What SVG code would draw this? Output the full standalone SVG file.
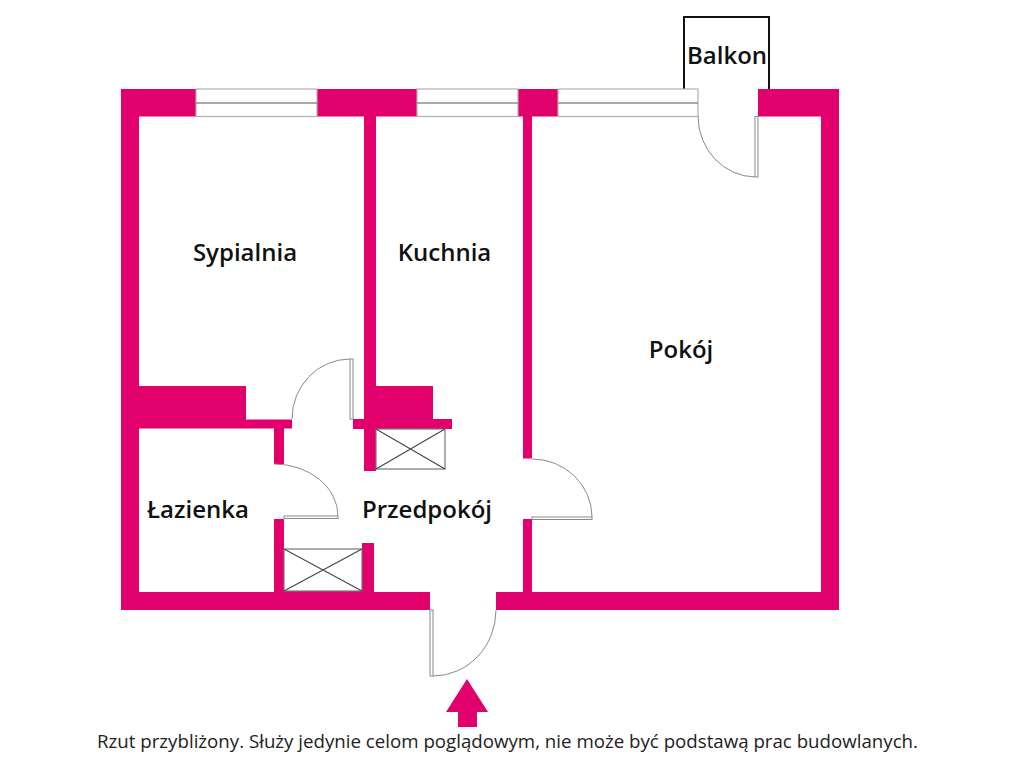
<svg xmlns="http://www.w3.org/2000/svg" width="1024" height="768" viewBox="0 0 1024 768">
<style>
.w{fill:#e2006c}
.win{fill:#fff;stroke:#b0b0b0;stroke-width:1.2}
.mid{stroke:#8c8c8c;stroke-width:1.6;fill:none}
.d{fill:#fff;stroke:#8a8a8a;stroke-width:1}
.a{fill:none;stroke:#8a8a8a;stroke-width:1}
.x{fill:#fff;stroke:#777;stroke-width:1.2}
.xl{stroke:#444;stroke-width:1.1;fill:none}
.l{font-family:"Open Sans","Noto Sans",sans-serif;font-weight:600;font-size:24px;fill:#111}
.f{font-family:"Open Sans","Noto Sans",sans-serif;font-size:18.700px;fill:#222}
</style>
<rect width="1024" height="768" fill="#fff"/>
<g id="balkon">
<path d="M684 89V17H769V89" fill="none" stroke="#111" stroke-width="2"/>
<text class="l" x="727" y="64" text-anchor="middle">Balkon</text>
</g>
<g id="walls">
<path class="w" d="M121 89H196V116.500H139V592H274V519H284V549H362V543H374V592H430V610H121Z"/>
<rect class="w" x="317" y="89" width="100" height="27.500"/>
<rect class="w" x="518" y="89" width="40" height="27.500"/>
<path class="w" d="M758 89H839V610H496V592H523V519H532V592H821V116.500H758Z"/>
<rect class="w" x="364" y="116" width="12" height="355"/>
<rect class="w" x="523" y="116" width="9" height="342.500"/>
<rect class="w" x="376" y="386" width="57" height="34"/>
<rect class="w" x="353" y="419" width="99" height="10"/>
<rect class="w" x="139" y="386" width="107" height="34"/>
<rect class="w" x="139" y="419.500" width="153" height="9"/>
<rect class="w" x="274" y="428" width="10" height="36"/>
</g>
<g id="windows">
<rect class="win" x="196" y="89" width="121" height="27.500"/><path class="mid" d="M196 103H317"/>
<rect class="win" x="417" y="89" width="101" height="27.500"/><path class="mid" d="M417 103H518"/>
<rect class="win" x="558" y="89" width="140" height="27.500"/><path class="mid" d="M558 103H698"/>
</g>
<g id="shafts">
<rect class="x" x="376" y="429" width="69" height="40"/><path class="xl" d="M376 429L445 469M445 429L376 469"/>
<rect class="x" x="284" y="549" width="78" height="42"/><path class="xl" d="M284 549L362 591M362 549L284 591"/>
</g>
<g id="doors">
<rect class="d" x="755" y="116.500" width="3" height="60.500"/><path class="a" d="M755 177A58 61 0 0 1 698 116.500"/>
<rect class="d" x="350" y="359" width="3" height="60"/><path class="a" d="M350 359A58 60 0 0 0 292 419"/>
<rect class="d" x="284" y="516" width="54" height="2.500"/><path class="a" d="M338 516A64 52 0 0 0 274 464"/>
<rect class="d" x="532" y="517" width="60" height="2.500"/><path class="a" d="M592 517A60 58 0 0 0 532 459"/>
<rect class="d" x="430" y="610" width="3" height="66"/><path class="a" d="M433 676A63 66 0 0 0 496 610"/>
</g>
<g id="arrow"><path class="w" d="M467 679L488 712H477V727H458V712H446Z"/></g>
<g id="labels">
<text class="l" x="245" y="261" text-anchor="middle">Sypialnia</text>
<text class="l" x="444.500" y="261" text-anchor="middle">Kuchnia</text>
<text class="l" x="681" y="358" text-anchor="middle">Pokój</text>
<text class="l" x="198" y="518" text-anchor="middle">Łazienka</text>
<text class="l" x="427" y="518" text-anchor="middle">Przedpokój</text>
<text class="f" x="507.500" y="748" text-anchor="middle">Rzut przybliżony. Służy jedynie celom poglądowym, nie może być podstawą prac budowlanych.</text>
</g>
</svg>
